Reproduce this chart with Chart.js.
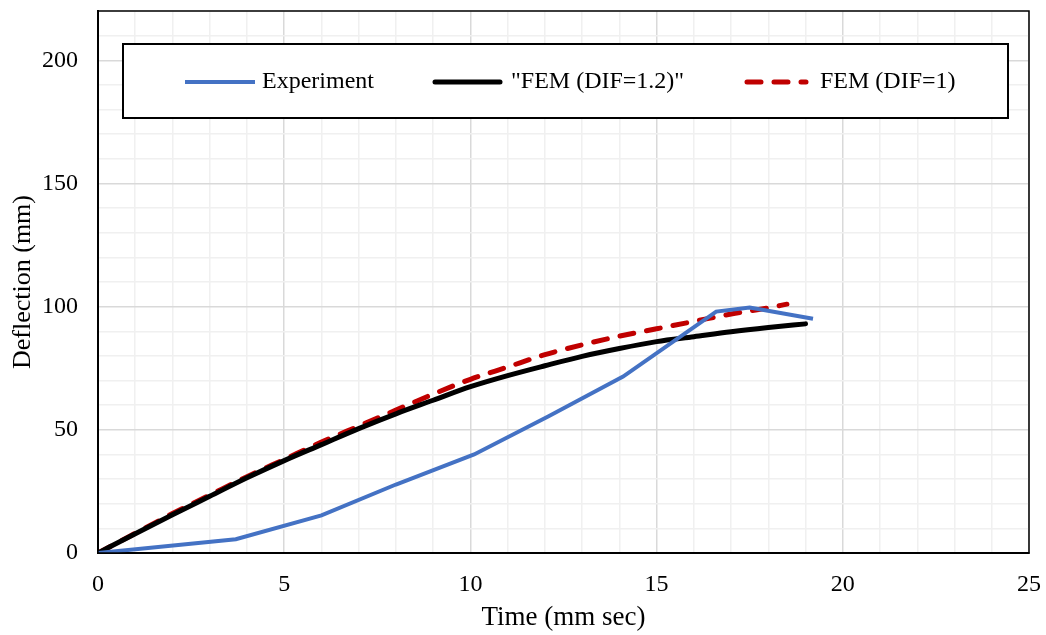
<!DOCTYPE html>
<html>
<head>
<meta charset="utf-8">
<script src="https://cdn.jsdelivr.net/npm/chart.js@4.4.1/dist/chart.umd.min.js"></script>
<style>
  html, body { margin: 0; padding: 0; background: #fff; }
  #wrap { width: 1046px; height: 635px; }
</style>
</head>
<body>
<div id="wrap"><canvas id="deflection-chart" width="1046" height="635"></canvas></div>
<script>
// Deflection vs time
var expTime = [0, 3.7, 6.0, 8.0, 10.1, 12.1, 14.1, 16.6, 17.5, 19.2];
var expDefl = [0, 5.6, 15.3, 27.8, 40, 55.5, 71.6, 98, 99.6, 95.1];

var fem12Time = [0, 1, 2, 3, 4, 5, 6, 7, 8, 9, 10, 11, 12, 13, 14, 15, 16, 17, 18, 19];
var fem12Defl = [0, 7.8, 15.5, 23, 30.5, 37.5, 44, 50.5, 56.5, 62, 67.5, 72, 76, 79.8, 83, 85.8, 87.8, 89.8, 91.5, 93];

var fem1Time = [0, 1, 2, 3, 4, 5, 6, 7, 8, 9, 10, 11, 12, 13, 14, 15, 16, 17, 18, 18.5];
var fem1Defl = [0, 8, 16, 23.5, 31, 38, 45, 51.5, 58, 64.5, 70.5, 75.5, 80.5, 84.5, 88, 91, 94, 97, 99.5, 101];

var xMajor = [0, 5, 10, 15, 20, 25];
var yMajor = [0, 50, 100, 150, 200];

function toPoints(xs, ys) {
  return xs.map(function (x, i) { return { x: x, y: ys[i] }; });
}

var FONT = "'Liberation Serif', 'Times New Roman', serif";

// legend drawn inside the plot, inside a boxed frame
var boxLegend = {
  id: 'boxLegend',
  afterDraw: function (chart) {
    var c = chart.ctx;
    var ca = chart.chartArea;
    c.save();
    // plot frame
    c.strokeStyle = '#000';
    c.lineWidth = 1.5;
    c.strokeRect(ca.left, ca.top, ca.right - ca.left, ca.bottom - ca.top);

    var bx = 123, by = 44, bw = 885, bh = 74;
    c.fillStyle = '#fff';
    c.fillRect(bx, by, bw, bh);
    c.lineWidth = 2;
    c.strokeRect(bx, by, bw, bh);

    var items = [
      { x1: 185, x2: 255, tx: 262 },
      { x1: 435, x2: 500, tx: 511 },
      { x1: 747, x2: 806, tx: 820 }
    ];
    var cy = 82;
    chart.data.datasets.forEach(function (ds, i) {
      var it = items[i];
      c.beginPath();
      c.strokeStyle = ds.borderColor;
      c.lineWidth = ds.borderWidth;
      c.lineCap = ds.borderCapStyle || 'butt';
      c.setLineDash(ds.borderDash || []);
      c.moveTo(it.x1, cy);
      c.lineTo(it.x2, cy);
      c.stroke();
      c.setLineDash([]);
      c.fillStyle = '#000';
      c.font = '24px ' + FONT;
      c.textBaseline = 'middle';
      c.textAlign = 'left';
      c.fillText(ds.label, it.tx, cy);
    });
    c.restore();
  }
};

var ctx = document.getElementById('deflection-chart').getContext('2d');
var myChart = new Chart(ctx, {
  type: 'line',
  data: {
    datasets: [
      {
        label: 'Experiment',
        data: toPoints(expTime, expDefl),
        borderColor: '#4472c4',
        borderWidth: 4,
        pointRadius: 0,
        tension: 0,
      },
      {
        label: '"FEM (DIF=1.2)"',
        data: toPoints(fem12Time, fem12Defl),
        borderColor: '#000000',
        borderWidth: 5,
        borderCapStyle: 'round',
        pointRadius: 0,
        cubicInterpolationMode: 'monotone',
      },
      {
        label: 'FEM (DIF=1)',
        data: toPoints(fem1Time, fem1Defl),
        borderColor: '#c00000',
        borderWidth: 5,
        borderCapStyle: 'round',
        borderDash: [14, 13],
        pointRadius: 0,
        cubicInterpolationMode: 'monotone',
      },
    ],
  },
  options: {
    responsive: false,
    animation: false,
    layout: { padding: { top: 11, right: 17, left: 8, bottom: 1 } },
    plugins: {
      legend: { display: false },
      tooltip: { enabled: false },
    },
    scales: {
      x: {
        type: 'linear',
        min: 0,
        max: 25,
        afterFit: function (s) {
          s.height = 81;
          s.paddingLeft = 0;
          s.paddingRight = 0;
        },
        ticks: {
          stepSize: 1,
          autoSkip: false,
          maxRotation: 0,
          padding: 17,
          color: '#000',
          font: { family: FONT, size: 24 },
          callback: function (v) { return xMajor.indexOf(v) >= 0 ? String(v) : ''; },
        },
        grid: {
          drawTicks: false,
          lineWidth: 1.5,
          color: function (c) { return c.tick && c.tick.value % 5 === 0 ? '#d9d9d9' : '#f0f0f0'; },
        },
        border: { color: '#000', width: 2 },
        title: {
          display: true,
          text: 'Time (mm sec)',
          color: '#000',
          font: { family: FONT, size: 27 },
          padding: { top: 4, bottom: 0 },
        },
      },
      y: {
        min: 0,
        max: 220,
        afterFit: function (s) {
          s.width = 90;
          s.paddingTop = 0;
          s.paddingBottom = 0;
        },
        ticks: {
          stepSize: 10,
          autoSkip: false,
          padding: 20,
          color: '#000',
          font: { family: FONT, size: 24 },
          callback: function (v) { return yMajor.indexOf(v) >= 0 ? String(v) : ''; },
        },
        grid: {
          drawTicks: false,
          lineWidth: 1.5,
          color: function (c) { return c.tick && c.tick.value % 50 === 0 ? '#d9d9d9' : '#f0f0f0'; },
        },
        border: { color: '#000', width: 2 },
        title: {
          display: true,
          text: 'Deflection (mm)',
          color: '#000',
          font: { family: FONT, size: 26 },
          padding: { top: 0, bottom: 4 },
        },
      },
    },
  },
  plugins: [boxLegend],
});
</script>
</body>
</html>
